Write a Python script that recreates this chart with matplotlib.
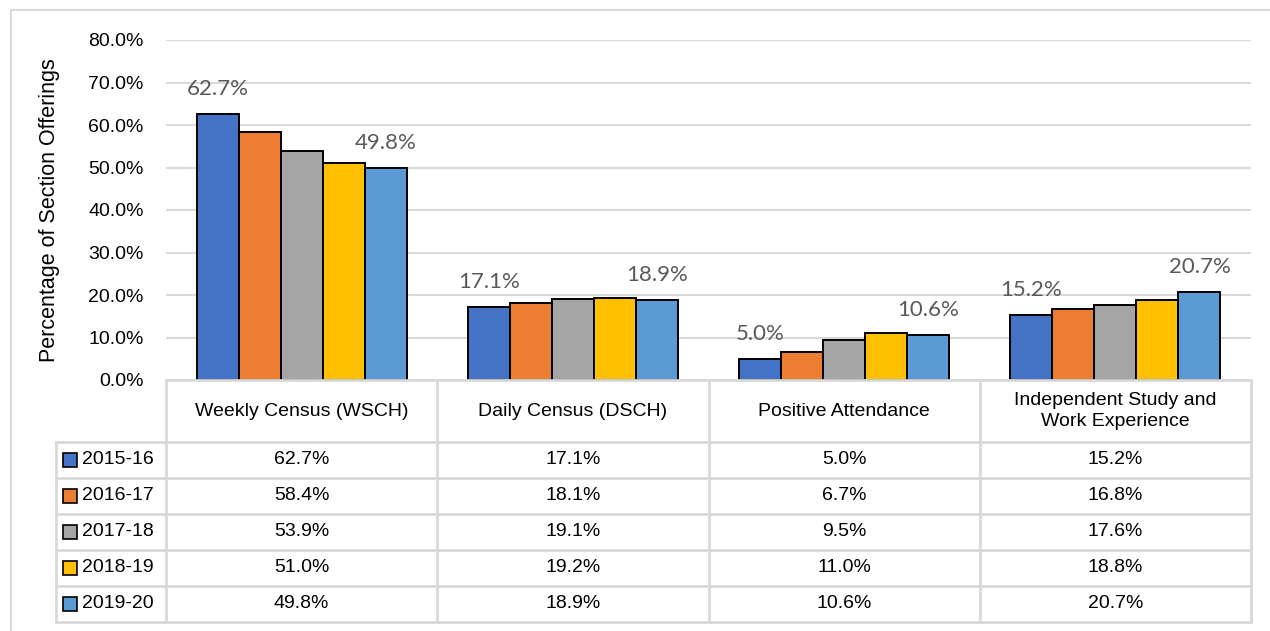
import matplotlib
matplotlib.use("Agg")
import numpy as np
import matplotlib.pyplot as plt
from matplotlib.patches import Rectangle
from matplotlib.ticker import FuncFormatter

# --- data ---
categories = ["Weekly Census (WSCH)", "Daily Census (DSCH)", "Positive Attendance",
              "Independent Study and\nWork Experience"]
years = ["2015-16", "2016-17", "2017-18", "2018-19", "2019-20"]
values = [
    [62.7, 17.1, 5.0, 15.2],   # 2015-16
    [58.4, 18.1, 6.7, 16.8],   # 2016-17
    [53.9, 19.1, 9.5, 17.6],   # 2017-18
    [51.0, 19.2, 11.0, 18.8],  # 2018-19
    [49.8, 18.9, 10.6, 20.7],  # 2019-20
]
colors = ["#4472C4", "#ED7D31", "#A5A5A5", "#FFC000", "#5B9BD5"]
yticks = [0, 10, 20, 30, 40, 50, 60, 70, 80]

SANS = ["Liberation Sans", "DejaVu Sans"]
GRID = "#D9D9D9"
W, H = 1270, 631

fig = plt.figure(figsize=(12.7, 6.31), dpi=100)

# outer chart border
fig.patches.append(Rectangle((11 / W, -0.1), 1.2, (H - 10) / H + 0.1,
                             transform=fig.transFigure, fill=False,
                             edgecolor=GRID, linewidth=1.5))

# --- bar area ---
ax = fig.add_axes([166 / W, (H - 380) / H, 1085 / W, 340 / H])
n = len(years)
x = np.arange(len(categories))
bw = 0.155
for i, (yr, vals, c) in enumerate(zip(years, values, colors)):
    pos = x + (i - (n - 1) / 2) * bw
    ax.bar(pos, vals, width=bw, color=c, edgecolor="black", linewidth=1.4, zorder=3)
    if i in (0, n - 1):
        for px, v in zip(pos, vals):
            ax.annotate(f"{v:.1f}%", (px, v), xytext=(0, 18), textcoords="offset points",
                        ha="center", va="center", fontsize=16, color="#595959",
                        family=["Lato", "DejaVu Sans"])

ax.set_xlim(-0.5, len(categories) - 0.5)
ax.set_ylim(0, 80)
ax.set_yticks(yticks)
ax.yaxis.set_major_formatter(FuncFormatter(lambda v, p: f"{v:.1f}%"))
ax.tick_params(axis="y", length=0, pad=16, labelsize=14)
for lb in ax.get_yticklabels():
    lb.set_family(SANS)
ax.set_xticks([])
ax.grid(axis="y", color=GRID, linewidth=1.5, zorder=0)
for s in ax.spines.values():
    s.set_visible(False)
ax.set_ylabel("Percentage of Section Offerings", fontsize=15.5, family=SANS)
ax.yaxis.set_label_coords((60 - 166) / 1085, 0.5)

# --- data table ---
tax = fig.add_axes([166 / W, (H - 622) / H, 1085 / W, 242 / H])
tax.set_xlim(-0.5, len(categories) - 0.5)
tax.set_ylim(242, 0)
tax.axis("off")
colw = 1085 / len(categories)
left = -0.5 - 110 / colw
head_h, row_h = 62, 36
kw = dict(color=GRID, linewidth=2, clip_on=False)

tax.plot([-0.5, len(categories) - 0.5], [0, 0], **kw)
for xe in np.arange(len(categories) + 1) - 0.5:
    tax.plot([xe, xe], [0, 242], **kw)
for k in range(n + 1):
    yy = head_h + k * row_h
    tax.plot([left, len(categories) - 0.5], [yy, yy], **kw)
tax.plot([left, left], [head_h, 242], **kw)

for j, cat in enumerate(categories):
    tax.text(j, head_h / 2, cat, ha="center", va="center", fontsize=14,
             family=SANS, linespacing=1.3, clip_on=False)
for i, (yr, vals, c) in enumerate(zip(years, values, colors)):
    yc = head_h + i * row_h + row_h / 2
    sq = 14 / colw
    tax.add_patch(Rectangle((left + 7 / colw, yc - 7), sq, 14, facecolor=c,
                            edgecolor="black", linewidth=1.2, clip_on=False))
    tax.text(left + 26 / colw, yc, yr, ha="left", va="center", fontsize=14,
             family=SANS, clip_on=False)
    for j, v in enumerate(vals):
        tax.text(j, yc, f"{v:.1f}%", ha="center", va="center", fontsize=14,
                 family=SANS, clip_on=False)

fig.savefig("out.png", dpi=100, facecolor="white")
